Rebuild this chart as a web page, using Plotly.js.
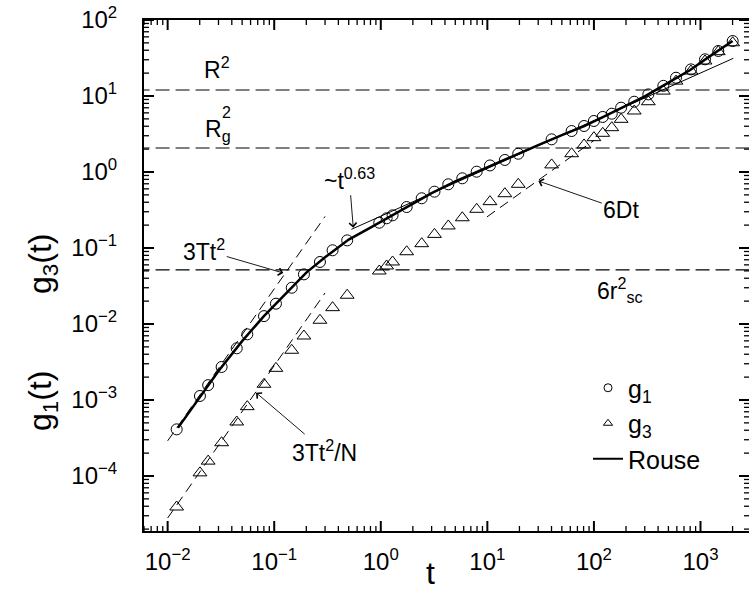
<!DOCTYPE html>
<html><head><meta charset="utf-8">
<script src="https://cdn.plot.ly/plotly-3.0.1.min.js"></script>
<style>html,body{margin:0;padding:0;background:#fff;overflow:hidden}</style>
</head><body><div id="chart" style="width:749px;height:599px"></div>
<script>
// ---- data ----
const tData = [0.01215, 0.0201, 0.024, 0.0321, 0.0445, 0.0559, 0.0802, 0.1038, 0.146, 0.190,
  0.2686, 0.353, 0.484, 0.968, 1.135, 1.29, 1.75, 2.42, 3.19, 4.30,
  5.82, 7.94, 10.58, 14.6, 19.5, 40.1, 61.8, 80.8, 100, 121,
  147, 180, 239, 324, 448, 589, 814, 1103, 1469, 2005];
const g1Data = [4.11e-4, 1.13e-3, 1.57e-3, 2.72e-3, 4.79e-3, 7.31e-3, 0.0127, 0.0185, 0.030, 0.045,
  0.0655, 0.0933, 0.126, 0.215, 0.246, 0.269, 0.346, 0.451, 0.551, 0.689,
  0.826, 1.01, 1.22, 1.44, 1.74, 2.69, 3.46, 4.03, 4.69, 5.30,
  5.85, 7.02, 8.41, 10.5, 13.6, 17.4, 22.4, 30.4, 39.1, 52.9];
const g3Data = [3.91e-5, 1.10e-4, 1.57e-4, 2.74e-4, 5.14e-4, 8.17e-4, 1.61e-3, 2.61e-3, 4.51e-3, 6.95e-3,
  0.0112, 0.0164, 0.0239, 0.0498, 0.058, 0.0655, 0.0893, 0.114, 0.151, 0.195,
  0.250, 0.323, 0.407, 0.518, 0.689, 1.24, 1.74, 2.27, 2.83, 3.23,
  3.83, 4.93, 6.35, 8.41, 11.6, 15.7, 21.3, 28.9, 38.3, 50.2];
const rouseT = [0.0125, 0.02, 0.03, 0.05, 0.08, 0.12, 0.2, 0.3, 0.5, 0.8, 1.2, 2, 3, 5, 8, 12,
  20, 30, 50, 80, 120, 200, 300, 500, 800, 1200, 2000];
const rouseG = [4.3e-4, 1.1e-3, 2.4e-3, 5.95e-3, 0.0127, 0.0228, 0.0475, 0.0755, 0.129, 0.185, 0.254, 0.386, 0.527, 0.754, 1.01, 1.30,
  1.77, 2.26, 3.06, 4.0, 5.25, 7.5, 9.9, 15.0, 22.0, 32.7, 52.8];
// guide lines (end points)
const ballT = [0.01, 0.3];
const ballG = [2.9e-4, 0.26];        // 3Tt^2
const ballNG = [2.8e-5, 0.0256];     // 3Tt^2/N
const diffT = [9.9, 100];
const diffG = [0.256, 2.6];          // 6Dt
const powT = [0.53, 2030];
const powG = [0.176, 31.3];          // ~t^0.63
const levelNames = ['R2', 'Rg2', '6rsc2'];
const levelValues = [12.0, 2.07, 0.0514];
const levelSpan = [0.005, 4000];
// ticks
const xTickVals = [0.01, 0.1, 1, 10, 100, 1000];
const xTickText = ['10<sup>\u22122</sup>', '10<sup>\u22121</sup>', '10<sup>0</sup>', '10<sup>1</sup>', '10<sup>2</sup>', '10<sup>3</sup>'];
const yTickVals = [1e-5, 1e-4, 1e-3, 1e-2, 1e-1, 1, 10, 100];
const yTickText = ['10<sup>\u22125</sup>', '10<sup>\u22124</sup>', '10<sup>\u22123</sup>', '10<sup>\u22122</sup>', '10<sup>\u22121</sup>', '10<sup>0</sup>', '10<sup>1</sup>', '10<sup>2</sup>'];
const minorMultipliers = [2, 3, 4, 5, 6, 7, 8, 9];

const FONT = 'Liberation Sans, Arial, Helvetica, sans-serif';
const BLK = 'black';

const traces = [];
levelValues.forEach((v, i) => {
  traces.push({x: levelSpan, y: [v, v], mode: 'lines', name: levelNames[i], showlegend: false,
    line: {color: BLK, width: 1.2, dash: '14px,6px'}});
});
traces.push({x: ballT, y: ballG, mode: 'lines', showlegend: false, line: {color: BLK, width: 1, dash: '10px,6px'}});
traces.push({x: ballT, y: ballNG, mode: 'lines', showlegend: false, line: {color: BLK, width: 1, dash: '10px,6px'}});
traces.push({x: diffT, y: diffG, mode: 'lines', showlegend: false, line: {color: BLK, width: 1, dash: '10px,6px'}});
traces.push({x: powT, y: powG, mode: 'lines', showlegend: false, line: {color: BLK, width: 1}});
traces.push({x: rouseT, y: rouseG, mode: 'lines', name: 'Rouse', showlegend: false, line: {color: BLK, width: 2.5}});
traces.push({x: tData, y: g1Data, mode: 'markers', name: 'g1', showlegend: false,
  marker: {symbol: 'circle-open', size: 11, color: BLK, line: {width: 1, color: BLK}}});
traces.push({x: tData, y: g3Data, mode: 'markers', name: 'g3', showlegend: false,
  marker: {symbol: 'triangle-up-open', size: 12, color: BLK, line: {width: 1, color: BLK}}});
// legend entries
traces.push({x: [null], y: [null], mode: 'markers', name: 'g<sub>1</sub>', marker: {symbol: 'circle-open', size: 8, color: BLK, line: {width: 1}}});
traces.push({x: [null], y: [null], mode: 'markers', name: 'g<sub>3</sub>', marker: {symbol: 'triangle-up-open', size: 8, color: BLK, line: {width: 1}}});
traces.push({x: [null], y: [null], mode: 'lines', name: 'Rouse', line: {color: BLK, width: 2}});

const L = 144, R = 749, T = 20, B = 531;
const W = R - L, H = B - T;
const px2paperX = p => (p - L) / W;
const px2paperY = p => (B - p) / H;
const lg = Math.log10;

const xRange = [lg(0.006), 3 + (R - 700.5) / 106.56];
const yRange = [2 - H / 76, 2];

// tick marks on all four sides of the frame (positions from the axis ranges)
const xp = v => (lg(v) - xRange[0]) / (xRange[1] - xRange[0]);
const yp = v => (lg(v) - yRange[0]) / (yRange[1] - yRange[0]);
const shapes = [];
function addTicks(vals, len, width, isX) {
  vals.forEach(v => {
    const p = isX ? xp(v) : yp(v);
    if (p < 0 || p > 1) return;
    const line = {color: BLK, width: width};
    if (isX) {
      shapes.push({type: 'line', xref: 'paper', yref: 'paper', x0: p, x1: p, y0: 0, y1: len / H, line: line});
      shapes.push({type: 'line', xref: 'paper', yref: 'paper', x0: p, x1: p, y0: 1, y1: 1 - len / H, line: line});
    } else {
      shapes.push({type: 'line', xref: 'paper', yref: 'paper', y0: p, y1: p, x0: 0, x1: len / W, line: line});
      shapes.push({type: 'line', xref: 'paper', yref: 'paper', y0: p, y1: p, x0: 1, x1: 1 - len / W, line: line});
    }
  });
}
const minorOf = majors => {
  const out = [];
  majors.concat([majors[0] / 10]).forEach(d => minorMultipliers.forEach(m => out.push(m * d)));
  return out;
};
addTicks(xTickVals.concat([1e4, 1e-3]), 10, 2, true);
addTicks(minorOf(xTickVals.concat([1e4])), 5, 1.3, true);
addTicks(yTickVals, 10, 2, false);
addTicks(minorOf(yTickVals), 5, 1.3, false);

const annFont = {family: FONT, size: 23, color: BLK};
const C = {xanchor: 'center', yanchor: 'middle', showarrow: false};
const annotations = [
  Object.assign({xref: 'paper', yref: 'paper', x: px2paperX(217), y: px2paperY(68), text: 'R<sup>2</sup>', font: annFont}, C),
  Object.assign({xref: 'paper', yref: 'paper', x: px2paperX(218), y: px2paperY(130), text: 'R<sub>g</sub>', font: annFont}, C),
  Object.assign({xref: 'paper', yref: 'paper', x: px2paperX(226.5), y: px2paperY(112), text: '2', font: {family: FONT, size: 16, color: BLK}}, C),
  Object.assign({xref: 'paper', yref: 'paper', x: px2paperX(620), y: px2paperY(290), text: '6r<sup>2</sup><sub>sc</sub>', font: annFont}, C),
  {x: lg(0.1216), y: lg(0.0469), text: '3Tt<sup>2</sup>', showarrow: true, ax: -79, ay: -23,
    arrowhead: 4, arrowsize: 1.6, arrowwidth: 0.9, arrowcolor: BLK, font: annFont},
  {x: lg(0.552), y: lg(0.185), text: '~t<sup>0.63</sup>', showarrow: true, ax: -4, ay: -49,
    arrowhead: 4, arrowsize: 1.6, arrowwidth: 0.9, arrowcolor: BLK, font: annFont},
  {x: lg(0.0675), y: lg(1.25e-3), text: '3Tt<sup>2</sup>/N', showarrow: true, ax: 68, ay: 58,
    arrowhead: 4, arrowsize: 1.6, arrowwidth: 0.9, arrowcolor: BLK, font: annFont},
  {x: lg(30.1), y: lg(0.762), text: '6Dt', showarrow: true, ax: 83, ay: 29,
    arrowhead: 4, arrowsize: 1.6, arrowwidth: 0.9, arrowcolor: BLK, font: annFont},
  // axis titles
  Object.assign({xref: 'paper', yref: 'paper', x: px2paperX(430), y: px2paperY(573), text: 't',
    font: {family: FONT, size: 32, color: BLK}}, C),
  Object.assign({xref: 'paper', yref: 'paper', x: px2paperX(42), y: px2paperY(401), text: 'g<sub>1</sub>(t)', textangle: -90,
    font: {family: FONT, size: 32, color: BLK}}, C),
  Object.assign({xref: 'paper', yref: 'paper', x: px2paperX(42), y: px2paperY(264), text: 'g<sub>3</sub>(t)', textangle: -90,
    font: {family: FONT, size: 32, color: BLK}}, C)
];

const tickFont = {family: FONT, size: 24, color: BLK};
const CLEAR = 'rgba(0,0,0,0)';

const layout = {
  width: 749, height: 599,
  margin: {l: L, r: 749 - R, t: T, b: 599 - B},
  showlegend: true,
  legend: {x: px2paperX(588), y: px2paperY(365), xanchor: 'left', yanchor: 'top',
    font: {family: FONT, size: 25, color: BLK}, bgcolor: CLEAR, tracegroupgap: 0},
  // frame lines + labels (invisible outside ticks push the labels away from the frame)
  xaxis: {type: 'log', range: xRange, showgrid: false, zeroline: false,
    showline: true, linewidth: 2, linecolor: BLK, mirror: true,
    ticks: 'outside', ticklen: 8, tickcolor: CLEAR, tickmode: 'array', tickvals: xTickVals, ticktext: xTickText, tickfont: tickFont},
  yaxis: {type: 'log', range: yRange, showgrid: false, zeroline: false,
    showline: true, linewidth: 2, linecolor: BLK,
    ticks: 'outside', ticklen: 20, tickcolor: CLEAR, tickmode: 'array', tickvals: yTickVals, ticktext: yTickText, tickfont: tickFont},
  shapes: shapes,
  annotations: annotations
};

Plotly.newPlot('chart', traces, layout, {displayModeBar: false, staticPlot: true});
</script></body></html>
